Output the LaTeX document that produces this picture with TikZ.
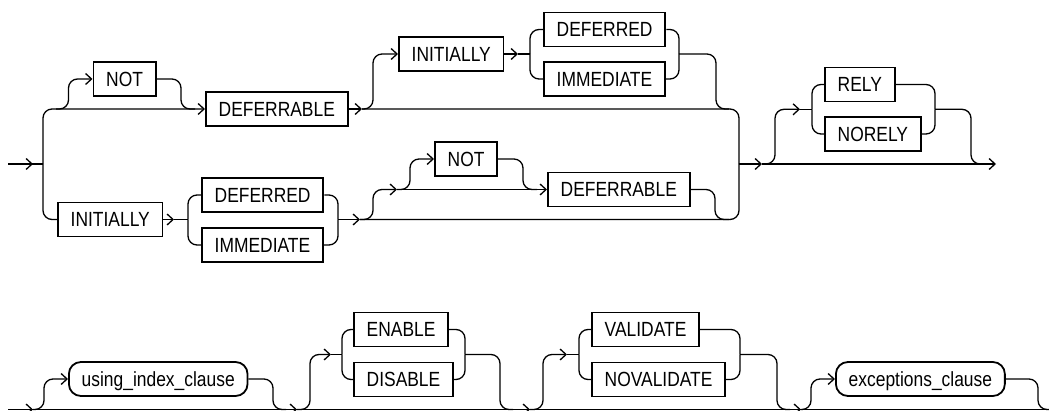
\documentclass[tikz,border=0pt]{standalone}
\usepackage{fontspec}
\setmainfont{Liberation Sans}[FakeStretch=0.85]
\usetikzlibrary{arrows.meta}
\tikzset{
  kw/.style={draw, line width=1.8pt, anchor=west, minimum height=34pt,
    inner xsep=12.8pt, inner ysep=0pt, text height=14.6pt, text depth=0pt,
    font=\fontsize{20.5}{23}\selectfont},
  nt/.style={kw, rounded corners=12pt},
  rc/.style={rounded corners=9pt},
  arr/.style={-{Straight Barb[length=6pt,width=11pt]}}
}
\begin{document}
\begin{tikzpicture}[x=1pt,y=-1pt,line width=1.3pt]
\clip (0,0) rectangle (1049,411);
% ---------- nodes ----------
\node[kw] (NOT1) at (92.5,79) {NOT};
\node[kw] (DEF1) at (205,109) {DEFERRABLE};
\node[kw] (INIT1) at (398,54) {INITIALLY};
\node[kw] (DEFD1) at (543,29.5) {DEFERRED};
\node[kw] (IMM1) at (543,79) {IMMEDIATE};
\node[kw] (INIT2) at (57,219.5) {INITIALLY};
\node[kw] (DEFD2) at (201,195) {DEFERRED};
\node[kw] (IMM2) at (201,245) {IMMEDIATE};
\node[kw] (NOT2) at (434,159) {NOT};
\node[kw] (DEF2) at (547,189.5) {DEFERRABLE};
\node[kw] (RELY) at (824,84.5) {RELY};
\node[kw] (NORELY) at (824,134) {NORELY};
\node[nt] (UIC) at (68,379) {using\_index\_clause};
\node[kw] (EN) at (353,329.5) {ENABLE};
\node[kw] (DIS) at (353,379.5) {DISABLE};
\node[kw] (VAL) at (591,329.5) {VALIDATE};
\node[kw] (NOVAL) at (591,379.5) {NOVALIDATE};
\node[nt] (EXC) at (835,379) {exceptions\_clause};
% ---------- coordinates ----------
\coordinate (in) at (8,164);
\coordinate (a1) at (33,164);
\coordinate (L) at (43,164);
\coordinate (n1a) at (56,109);
\coordinate (n1b) at (181,109);
\coordinate (n1c) at (195,109);
\coordinate (a2) at (362,109);
\coordinate (Rt) at (739,164);
\coordinate (a4) at (518,54);
\coordinate (c1) at (530,54);
\coordinate (c2) at (679,54);
\coordinate (c2b) at (716,109);
\coordinate (c2c) at (729,109);
\coordinate (a5) at (174,219.5);
\coordinate (c3) at (188,219.5);
\coordinate (c4) at (338,219.5);
\coordinate (a6) at (360,219.5);
\coordinate (d0) at (373,189.5);
\coordinate (d1) at (397,189.5);
\coordinate (n2b) at (523,189.5);
\coordinate (n2c) at (537,189.5);
\coordinate (d2b) at (715,219.5);
\coordinate (d2c) at (729,219.5);
\coordinate (a3) at (762,164);
\coordinate (end1) at (996,164);
\coordinate (e0) at (775,109.3);
\coordinate (e1) at (800,109.3);
\coordinate (c5) at (812,109.3);
\coordinate (c6) at (935,109.3);
\coordinate (g1) at (971,164);
\coordinate (g2) at (985,164);
% bottom row
\coordinate (bin) at (8,409.5);
\coordinate (bend) at (1049,409.5);
\coordinate (ba1) at (33,409.5);
\coordinate (u0) at (44,379);
\coordinate (u1) at (273,409.5);
\coordinate (u2) at (286,409.5);
\coordinate (ba2) at (297,409.5);
\coordinate (v0) at (310,354.5);
\coordinate (f1) at (331,354.5);
\coordinate (c7) at (342,354.5);
\coordinate (c8) at (465,354.5);
\coordinate (v1) at (500,409.5);
\coordinate (v2) at (513,409.5);
\coordinate (ba3) at (530,409.5);
\coordinate (w0) at (543,354.5);
\coordinate (f2) at (567,354.5);
\coordinate (c9) at (579,354.5);
\coordinate (c10) at (740,354.5);
\coordinate (w1) at (777,409.5);
\coordinate (w2) at (790,409.5);
\coordinate (ba4) at (801,409.5);
\coordinate (x0) at (811,379);
\coordinate (x1) at (1038,409.5);
\coordinate (x2) at (1049,409.5);
% ---------- top row connectors ----------
\draw (in) -- (L);
\draw[arr] (in) -- (a1);
\draw[rc,arr] (L) |- (DEF1.west);
\draw[rc,arr] (n1a) -| ([xshift=-24pt]NOT1.west) -- (NOT1.west);
\draw[rc] (NOT1.east) -| (n1b) -- (n1c);
\draw[arr] (DEF1.east) -- (a2);
\draw[rc] (a2) -| (Rt);
\draw[rc,arr] (a2) -| ([xshift=-25pt]INIT1.west) -- (INIT1.west);
\draw[arr] (INIT1.east) -- (a4);
\draw (a4) -- (c1);
\draw[rc] (c1) |- (DEFD1.west);
\draw[rc] (c1) |- (IMM1.west);
\draw[rc] (DEFD1.east) -| (c2);
\draw[rc] (IMM1.east) -| (c2);
\draw[rc] (c2) -| (c2b) -- (c2c);
\draw[rc] (L) |- (INIT2.west);
\draw[arr] (INIT2.east) -- (a5);
\draw (a5) -- (c3);
\draw[rc] (c3) |- (DEFD2.west);
\draw[rc] (c3) |- (IMM2.west);
\draw[rc] (DEFD2.east) -| (c4);
\draw[rc] (IMM2.east) -| (c4);
\draw[arr] (c4) -- (a6);
\draw[rc] (a6) -| (Rt);
\draw[rc,arr] (a6) -| (d0) -- (d1);
\draw[arr] (d1) -- (DEF2.west);
\draw[rc,arr] (d1) -| ([xshift=-24pt]NOT2.west) -- (NOT2.west);
\draw[rc] (NOT2.east) -| (n2b) -- (n2c);
\draw[rc] (DEF2.east) -| (d2b) -- (d2c);
\draw[arr] (Rt) -- (a3);
\draw[arr] (a3) -- (end1);
\draw[rc,arr] (a3) -| (e0) -- (e1);
\draw (e1) -- (c5);
\draw[rc] (c5) |- (RELY.west);
\draw[rc] (c5) |- (NORELY.west);
\draw[rc] (RELY.east) -| (c6);
\draw[rc] (NORELY.east) -| (c6);
\draw[rc] (c6) -| (g1) -- (g2);
% ---------- bottom row connectors ----------
\draw (bin) -- (bend);
\draw[arr] (bin) -- (ba1);
\draw[rc,arr] (ba1) -| (u0) -- (UIC.west);
\draw[rc] (UIC.east) -| (u1) -- (u2);
\draw[arr] (u2) -- (ba2);
\draw[rc,arr] (ba2) -| (v0) -- (f1);
\draw (f1) -- (c7);
\draw[rc] (c7) |- (EN.west);
\draw[rc] (c7) |- (DIS.west);
\draw[rc] (EN.east) -| (c8);
\draw[rc] (DIS.east) -| (c8);
\draw[rc] (c8) -| (v1) -- (v2);
\draw[arr] (v2) -- (ba3);
\draw[rc,arr] (ba3) -| (w0) -- (f2);
\draw (f2) -- (c9);
\draw[rc] (c9) |- (VAL.west);
\draw[rc] (c9) |- (NOVAL.west);
\draw[rc] (VAL.east) -| (c10);
\draw[rc] (NOVAL.east) -| (c10);
\draw[rc] (c10) -| (w1) -- (w2);
\draw[arr] (w2) -- (ba4);
\draw[rc,arr] (ba4) -| (x0) -- (EXC.west);
\draw[rc] (EXC.east) -| (x1) -- (x2);
\end{tikzpicture}
\end{document}
